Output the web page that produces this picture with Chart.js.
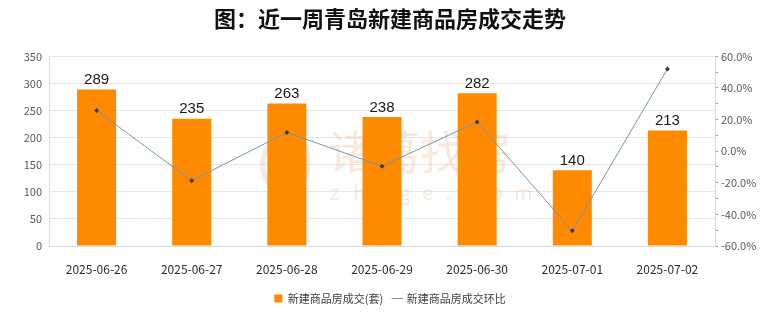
<!DOCTYPE html>
<html>
<head>
<meta charset="utf-8">
<script src="https://cdn.jsdelivr.net/npm/chart.js@4.4.1/dist/chart.umd.min.js"></script>
<style>
  html, body { margin: 0; padding: 0; background: #ffffff; }
  #wrap { width: 780px; height: 328px; position: relative; }
</style>
</head>
<body>
<div id="wrap"><canvas id="dealChart"></canvas></div>
<script>
// daily figures
const dates = ["2025-06-26", "2025-06-27", "2025-06-28", "2025-06-29", "2025-06-30", "2025-07-01", "2025-07-02"];
const deals = [289, 235, 263, 238, 282, 140, 213];
const dealRatio = [25.8, -18.7, 11.9, -9.5, 18.5, -50.4, 52.1]; // %

const dealRange = [0, 350, 50];
const ratioRange = [-60, 60, 10];

const CJK = '"Noto Sans CJK SC", "Noto Sans", sans-serif';

// faint site mark behind the bars
const watermark = {
    id: "watermark",
    beforeDatasetsDraw(chart) {
        const ctx = chart.ctx;
        ctx.save();
        ctx.fillStyle = "rgba(242,196,160,0.38)";
        ctx.strokeStyle = "rgba(242,196,160,0.38)";
        // leaf
        ctx.lineWidth = 5;
        ctx.beginPath();
        ctx.moveTo(284, 130);
        ctx.quadraticCurveTo(250, 155, 270, 187);
        ctx.stroke();
        ctx.beginPath();
        ctx.moveTo(286, 130);
        ctx.quadraticCurveTo(322, 155, 300, 187);
        ctx.stroke();
        ctx.lineWidth = 4;
        ctx.beginPath();
        ctx.moveTo(285, 140);
        ctx.lineTo(285, 182);
        ctx.stroke();

        ctx.font = "46px " + CJK;
        ctx.textBaseline = "middle";
        ctx.textAlign = "left";
        ctx.fillText("诸葛找房", 328, 152);

        ctx.font = "20px " + CJK;
        const site = "zhuge.com";
        for (let i = 0; i < site.length; i++) {
            ctx.fillText(site[i], 330 + i * 23, 192);
        }
        ctx.restore();
    }
};

// value labels on top of the bars
const barValues = {
    id: "barValues",
    afterDatasetsDraw(chart) {
        const ctx = chart.ctx;
        const meta = chart.getDatasetMeta(1);
        ctx.save();
        ctx.font = '15px "Liberation Sans", Arial, sans-serif';
        ctx.fillStyle = "#1a1a1a";
        ctx.textAlign = "center";
        ctx.textBaseline = "bottom";
        meta.data.forEach((bar, i) => {
            ctx.fillText(String(deals[i]), bar.x, bar.y - 2);
        });
        ctx.restore();
    }
};

const ctx = document.getElementById("dealChart").getContext("2d");

new Chart(ctx, {
    type: "bar",
    data: {
        labels: dates,
        datasets: [
            {
                type: "line",
                label: "新建商品房成交环比",
                data: dealRatio,
                yAxisID: "y1",
                borderColor: "#7393bb",
                borderWidth: 1,
                pointStyle: "rectRot",
                pointRadius: 2.5,
                pointBackgroundColor: "#3a3a3a",
                pointBorderColor: "#3a3a3a",
                pointBorderWidth: 0,
                tension: 0,
                order: 1
            },
            {
                label: "新建商品房成交(套)",
                data: deals,
                yAxisID: "y",
                backgroundColor: "#ff8a00",
                barPercentage: 0.41,
                categoryPercentage: 1,
                order: 2
            }
        ]
    },
    options: {
        responsive: true,
        maintainAspectRatio: false,
        animation: false,
        layout: {
            padding: { left: 0, right: 0, top: 0, bottom: 14 }
        },
        plugins: {
            title: {
                display: true,
                text: "图：近一周青岛新建商品房成交走势",
                color: "#111111",
                font: { family: CJK, size: 22, weight: "bold" },
                padding: { top: 5, bottom: 25 }
            },
            legend: {
                position: "bottom",
                labels: {
                    font: { family: CJK, size: 11 },
                    color: "#404040",
                    padding: 10,
                    boxWidth: 8,
                    boxHeight: 8,
                    usePointStyle: true,
                    generateLabels(chart) {
                        const bar = chart.data.datasets[1];
                        const line = chart.data.datasets[0];
                        return [
                            {
                                text: bar.label,
                                fillStyle: bar.backgroundColor,
                                strokeStyle: bar.backgroundColor,
                                lineWidth: 0,
                                pointStyle: "rect",
                                fontColor: "#404040",
                                datasetIndex: 1
                            },
                            {
                                text: line.label,
                                fillStyle: "#3a3a3a",
                                strokeStyle: line.borderColor,
                                lineWidth: 1,
                                pointStyle: "line",
                                fontColor: "#404040",
                                datasetIndex: 0
                            }
                        ];
                    }
                }
            },
            tooltip: { enabled: false }
        },
        scales: {
            x: {
                grid: { display: false },
                border: { display: true, color: "#d9d9d9" },
                ticks: {
                    color: "#2b2b2b",
                    font: { family: CJK, size: 12 },
                    padding: 8,
                    maxRotation: 0
                },
                afterFit(scale) { scale.height = 37; }
            },
            y: {
                position: "left",
                min: dealRange[0],
                max: dealRange[1],
                grid: { color: "#e6e6e6", drawTicks: false },
                border: { display: true, color: "#d9d9d9" },
                ticks: {
                    stepSize: dealRange[2],
                    color: "#595959",
                    font: { family: CJK, size: 11 },
                    padding: 7
                },
                afterFit(scale) { scale.width = 49; }
            },
            y1: {
                position: "right",
                min: ratioRange[0],
                max: ratioRange[1],
                grid: { drawOnChartArea: false, drawTicks: true, tickLength: 3, color: "#9a9a9a" },
                border: { display: true, color: "#d9d9d9" },
                ticks: {
                    stepSize: ratioRange[2],
                    autoSkip: false,
                    color: "#595959",
                    font: { family: CJK, size: 11 },
                    padding: 3,
                    callback: v => (v % 20 === 0 ? v.toFixed(1) + "%" : "")
                },
                afterFit(scale) { scale.width = 65; }
            }
        }
    },
    plugins: [watermark, barValues]
});
</script>
</body>
</html>
